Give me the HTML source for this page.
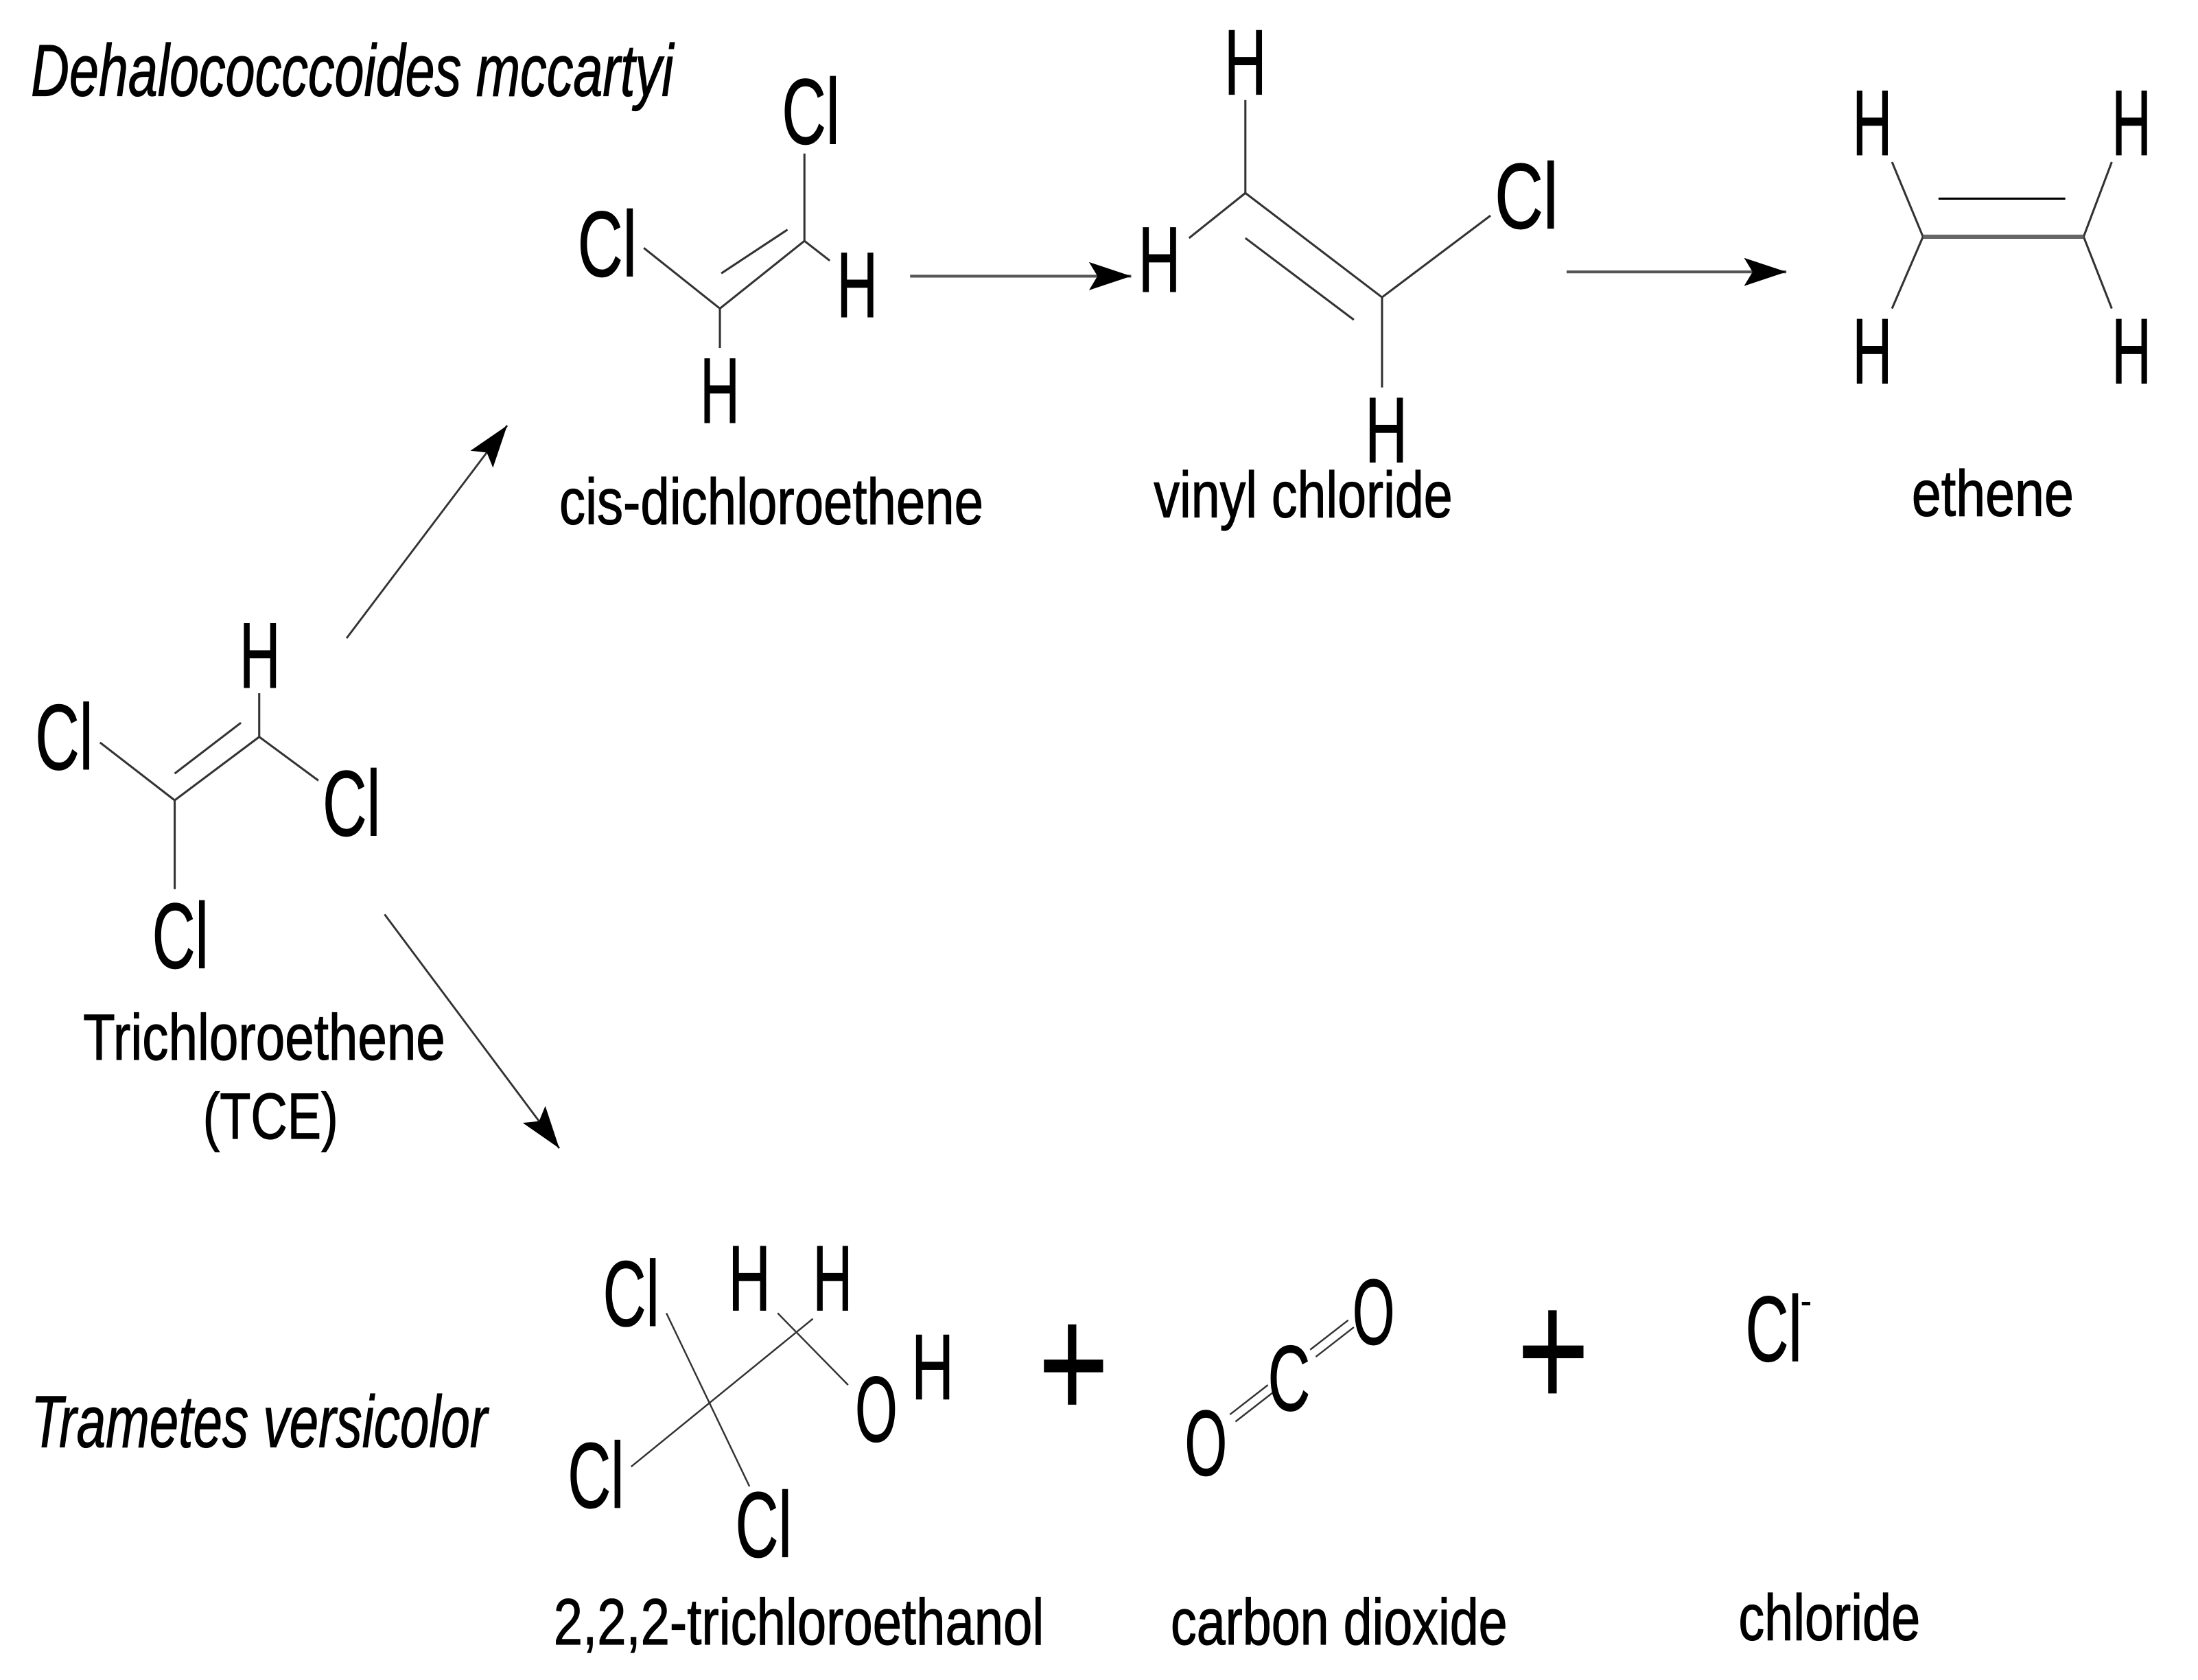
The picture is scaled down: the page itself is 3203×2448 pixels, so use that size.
<!DOCTYPE html>
<html><head><meta charset="utf-8"><style>
html,body{margin:0;padding:0;background:#fff;}
svg{display:block;}
text{font-family:"Liberation Sans",sans-serif;fill:#000;stroke:#000;stroke-width:0.6;}
.a{font-size:66px;}
.l{font-size:46px;}
.i{font-size:52px;font-style:italic;}
</style></head><body>
<svg width="3203" height="2448" viewBox="0 0 1560.2 1192.4" preserveAspectRatio="none" xmlns="http://www.w3.org/2000/svg">
<defs>
<marker id="ah" viewBox="0 0 30 20" refX="30" refY="10" markerWidth="30" markerHeight="20" markerUnits="userSpaceOnUse" orient="auto">
<path d="M0,0 L30,10 L0,20 L6,10 Z" fill="#000"/>
</marker>
</defs>
<g stroke="#333" stroke-width="1.5" fill="none">
<line x1="511" y1="219" x2="571" y2="171"/>
<line x1="512" y1="194" x2="559" y2="163"/>
<line x1="571" y1="171" x2="571" y2="109"/>
<line x1="457" y1="176" x2="511" y2="219"/>
<line x1="571" y1="171" x2="589" y2="185"/>
<line x1="511" y1="219" x2="511" y2="247"/>
<line x1="884" y1="137" x2="884" y2="71"/>
<line x1="884" y1="137" x2="844" y2="169"/>
<line x1="884" y1="137" x2="981" y2="211"/>
<line x1="884" y1="169" x2="961" y2="227"/>
<line x1="981" y1="211" x2="1058" y2="153"/>
<line x1="981" y1="211" x2="981" y2="275"/>
<line x1="1365" y1="168" x2="1343" y2="115"/>
<line x1="1365" y1="168" x2="1343" y2="219"/>
<line x1="1479" y1="168" x2="1499" y2="115"/>
<line x1="1479" y1="168" x2="1499" y2="219"/>
<line x1="1376" y1="141" x2="1466" y2="141" stroke="#000"/>
<line x1="1365" y1="168" x2="1479" y2="168" stroke="#666" stroke-width="3"/>
<line x1="184" y1="523" x2="124" y2="568"/>
<line x1="124" y1="549" x2="171" y2="513"/>
<line x1="184" y1="523" x2="184" y2="492"/>
<line x1="71" y1="527" x2="124" y2="568"/>
<line x1="184" y1="523" x2="226" y2="554"/>
<line x1="124" y1="568" x2="124" y2="631"/>
<line x1="473" y1="932" x2="532" y2="1055" stroke-width="1.2"/>
<line x1="448" y1="1041" x2="577" y2="936" stroke-width="1.2"/>
<line x1="552" y1="932" x2="602" y2="983" stroke-width="1.2"/>
<line x1="873" y1="1004" x2="900" y2="983" stroke-width="1.2"/>
<line x1="877" y1="1009" x2="904" y2="988" stroke-width="1.2"/>
<line x1="930" y1="958" x2="957" y2="937" stroke-width="1.2"/>
<line x1="934" y1="963" x2="961" y2="942" stroke-width="1.2"/>
</g>
<g stroke="#555" stroke-width="2" fill="none">
<line x1="646" y1="196" x2="803" y2="196" marker-end="url(#ah)"/>
<line x1="1112" y1="193" x2="1268" y2="193" marker-end="url(#ah)"/>
<line x1="246" y1="453" x2="360" y2="302" stroke="#333" stroke-width="1.4" marker-end="url(#ah)"/>
<line x1="273" y1="649" x2="397" y2="815" stroke="#333" stroke-width="1.4" marker-end="url(#ah)"/>
</g>
<rect x="758" y="940" width="6" height="57" fill="#000"/>
<rect x="741" y="965" width="42" height="9" fill="#000"/>
<rect x="1099" y="930" width="6" height="59" fill="#000"/>
<rect x="1081" y="955" width="43" height="9" fill="#000"/>

<text class="i" x="22" y="68" textLength="456" lengthAdjust="spacingAndGlyphs">Dehalococccoides mccartyi</text>
<text class="i" x="22" y="1027" textLength="324" lengthAdjust="spacingAndGlyphs">Trametes versicolor</text>

<text class="a" x="555" y="102" textLength="41" lengthAdjust="spacingAndGlyphs">Cl</text>
<text class="a" x="410" y="196" textLength="42" lengthAdjust="spacingAndGlyphs">Cl</text>
<text class="a" x="594" y="225" textLength="29" lengthAdjust="spacingAndGlyphs">H</text>
<text class="a" x="497" y="300" textLength="28" lengthAdjust="spacingAndGlyphs">H</text>
<text class="l" x="397" y="372" textLength="301" lengthAdjust="spacingAndGlyphs">cis-dichloroethene</text>

<text class="a" x="869" y="67" textLength="30" lengthAdjust="spacingAndGlyphs">H</text>
<text class="a" x="808" y="207" textLength="30" lengthAdjust="spacingAndGlyphs">H</text>
<text class="a" x="1061" y="162" textLength="45" lengthAdjust="spacingAndGlyphs">Cl</text>
<text class="a" x="969" y="328" textLength="30" lengthAdjust="spacingAndGlyphs">H</text>
<text class="l" x="819" y="367" textLength="212" lengthAdjust="spacingAndGlyphs">vinyl chloride</text>

<text class="a" x="1315" y="110" textLength="28" lengthAdjust="spacingAndGlyphs">H</text>
<text class="a" x="1499" y="110" textLength="28" lengthAdjust="spacingAndGlyphs">H</text>
<text class="a" x="1315" y="272" textLength="28" lengthAdjust="spacingAndGlyphs">H</text>
<text class="a" x="1499" y="272" textLength="28" lengthAdjust="spacingAndGlyphs">H</text>
<text class="l" x="1357" y="366" textLength="115" lengthAdjust="spacingAndGlyphs">ethene</text>

<text class="a" x="170" y="488" textLength="29" lengthAdjust="spacingAndGlyphs">H</text>
<text class="a" x="25" y="546" textLength="41" lengthAdjust="spacingAndGlyphs">Cl</text>
<text class="a" x="229" y="593" textLength="41" lengthAdjust="spacingAndGlyphs">Cl</text>
<text class="a" x="108" y="687" textLength="40" lengthAdjust="spacingAndGlyphs">Cl</text>
<text class="l" x="59" y="752" textLength="257" lengthAdjust="spacingAndGlyphs">Trichloroethene</text>
<text class="l" x="144" y="808" textLength="96" lengthAdjust="spacingAndGlyphs">(TCE)</text>

<text class="a" x="428" y="941" textLength="40" lengthAdjust="spacingAndGlyphs">Cl</text>
<text class="a" x="517" y="930" textLength="30" lengthAdjust="spacingAndGlyphs">H</text>
<text class="a" x="577" y="930" textLength="28" lengthAdjust="spacingAndGlyphs">H</text>
<text class="a" x="607" y="1023" textLength="30" lengthAdjust="spacingAndGlyphs">O</text>
<text class="a" x="647" y="993" textLength="30" lengthAdjust="spacingAndGlyphs">H</text>
<text class="a" x="403" y="1070" textLength="40" lengthAdjust="spacingAndGlyphs">Cl</text>
<text class="a" x="522" y="1105" textLength="40" lengthAdjust="spacingAndGlyphs">Cl</text>
<text class="l" x="393" y="1167" textLength="348" lengthAdjust="spacingAndGlyphs">2,2,2-trichloroethanol</text>

<text class="a" x="960" y="954" textLength="30" lengthAdjust="spacingAndGlyphs">O</text>
<text class="a" x="900" y="1001" textLength="30" lengthAdjust="spacingAndGlyphs">C</text>
<text class="a" x="841" y="1047" textLength="30" lengthAdjust="spacingAndGlyphs">O</text>
<text class="l" x="831" y="1167" textLength="239" lengthAdjust="spacingAndGlyphs">carbon dioxide</text>

<text class="a" x="1239" y="966" textLength="40" lengthAdjust="spacingAndGlyphs">Cl</text>
<rect x="1279" y="924" width="6" height="2.5" fill="#000"/>
<text class="l" x="1234" y="1164" textLength="129" lengthAdjust="spacingAndGlyphs">chloride</text>
</svg>
</body></html>
